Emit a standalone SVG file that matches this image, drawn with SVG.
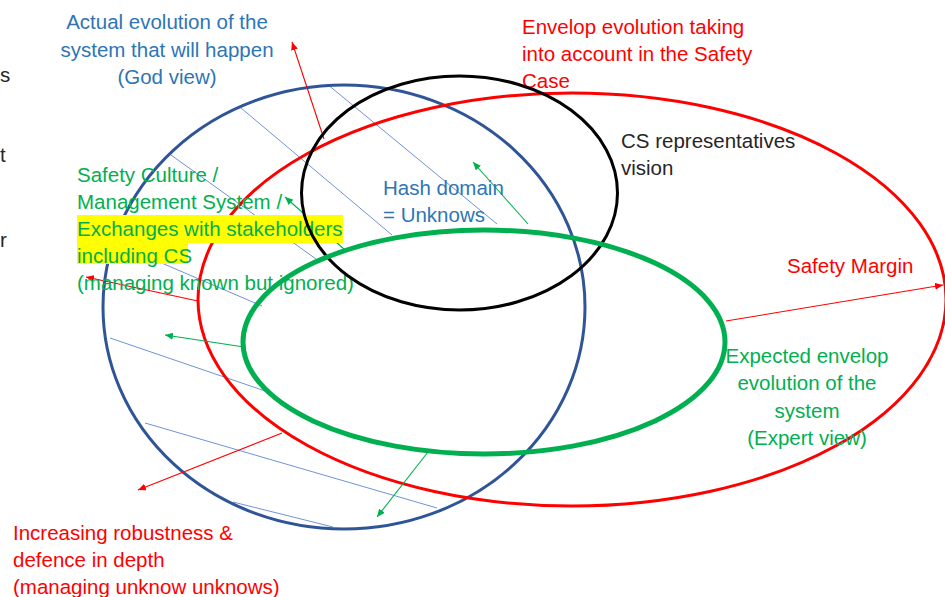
<svg xmlns="http://www.w3.org/2000/svg" width="945" height="597" viewBox="0 0 945 597">
<style>
text{font-family:"Liberation Sans",Arial,sans-serif;font-size:20.5px}
.blueT{fill:#2E75B6}
.redT{fill:#FF0000}
.greenT{fill:#00B050}
.blackT{fill:#262626}
.hatch line{stroke:#6F93D6;stroke-width:1}
.thin{stroke-width:1.1;fill:none}
.r{stroke:#FF0000}
.g{stroke:#00B050}
</style>
<defs>
<marker id="ahR" markerUnits="userSpaceOnUse" markerWidth="9" markerHeight="7" refX="8" refY="3.5" orient="auto"><path d="M0,0 L8,3.5 L0,7 z" fill="#FF0000"/></marker>
<marker id="ahG" markerUnits="userSpaceOnUse" markerWidth="9" markerHeight="7" refX="8" refY="3.5" orient="auto"><path d="M0,0 L8,3.5 L0,7 z" fill="#00B050"/></marker>
</defs>
<rect width="945" height="597" fill="#ffffff"/>

<g id="hatch" class="hatch">
<line x1="327" y1="84" x2="497" y2="224"/>
<line x1="241" y1="108" x2="392" y2="235"/>
<line x1="171" y1="155" x2="316" y2="259"/>
<line x1="115" y1="243" x2="262" y2="306"/>
<line x1="110" y1="338" x2="271" y2="393"/>
<line x1="145" y1="423" x2="437" y2="508"/>
<line x1="233" y1="502" x2="333" y2="527"/>
</g>

<g id="node-actual">
<ellipse cx="344" cy="307" rx="241" ry="222" fill="none" stroke="#2F5597" stroke-width="3"/>
<text class="blueT" text-anchor="middle"><tspan x="167" y="29">Actual evolution of the</tspan><tspan x="167" y="57">system that will happen</tspan><tspan x="167" y="84">(God view)</tspan></text>
</g>

<g id="node-safetycase">
<ellipse cx="572" cy="299.5" rx="374" ry="206.5" fill="none" stroke="#FF0000" stroke-width="3"/>
<text class="redT"><tspan x="522" y="34">Envelop evolution taking</tspan><tspan x="522" y="61">into account in the Safety</tspan><tspan x="522" y="88">Case</tspan></text>
</g>

<g id="connectors">
<line class="thin r" x1="324" y1="139" x2="292" y2="42" marker-end="url(#ahR)"/>
<line class="thin r" x1="726" y1="321" x2="943" y2="285" marker-end="url(#ahR)"/>
<line class="thin r" x1="198" y1="301" x2="86" y2="277" marker-end="url(#ahR)"/>
<line class="thin r" x1="282" y1="433" x2="138" y2="490" marker-end="url(#ahR)"/>
<line class="thin g" x1="244" y1="347" x2="165" y2="335" marker-end="url(#ahG)"/>
<line class="thin g" x1="528" y1="224" x2="473" y2="162" marker-end="url(#ahG)"/>
<line class="thin g" x1="345" y1="250" x2="285" y2="197" marker-end="url(#ahG)"/>
<line class="thin g" x1="428" y1="452" x2="377" y2="517" marker-end="url(#ahG)"/>
</g>

<g id="node-culture">
<rect x="77" y="215" width="266" height="28" fill="#FFFF00"/>
<rect x="77" y="243" width="111" height="21" fill="#FFFF00"/>
<text class="greenT"><tspan x="77" y="182">Safety Culture /</tspan><tspan x="77" y="209">Management System /</tspan><tspan x="77" y="236">Exchanges with stakeholders</tspan><tspan x="77" y="263">including CS</tspan><tspan x="77" y="290">(managing known but ignored)</tspan></text>
</g>

<g id="node-cs">
<ellipse cx="459.5" cy="193" rx="158" ry="117" fill="none" stroke="#000000" stroke-width="3"/>
<text class="blackT"><tspan x="621" y="148">CS representatives</tspan><tspan x="621" y="175">vision</tspan></text>
</g>

<g id="node-expected">
<ellipse cx="484" cy="342" rx="241" ry="112" fill="none" stroke="#00B050" stroke-width="5"/>
<text class="greenT" text-anchor="middle"><tspan x="807" y="363">Expected envelop</tspan><tspan x="807" y="390">evolution of the</tspan><tspan x="807" y="418">system</tspan><tspan x="807" y="445">(Expert view)</tspan></text>
</g>

<g id="node-hash">
<text class="blueT"><tspan x="383" y="195">Hash domain</tspan><tspan x="383" y="222">= Unknows</tspan></text>
</g>

<g id="node-margin">
<text class="redT" x="787" y="273">Safety Margin</text>
</g>

<g id="node-robustness">
<text class="redT"><tspan x="13" y="540">Increasing robustness &amp;</tspan><tspan x="13" y="567">defence in depth</tspan><tspan x="13" y="594">(managing unknow unknows)</tspan></text>
</g>

<g id="edge-fragments" class="blackT">
<text x="0" y="82" font-size="16">s</text>
<text x="0" y="162" font-size="16">t</text>
<text x="0" y="247" font-size="16">r</text>
</g>
</svg>
